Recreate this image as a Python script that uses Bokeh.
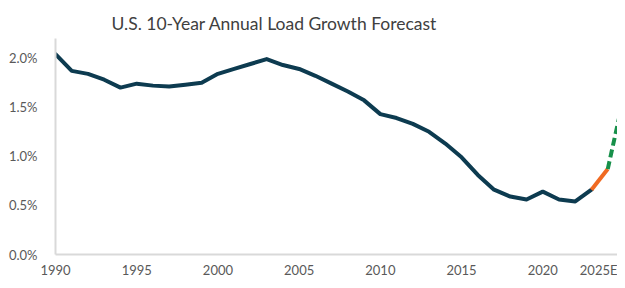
from bokeh.plotting import figure
from bokeh.models import FixedTicker, PrintfTickFormatter, Range1d
from bokeh.embed import file_html
from bokeh.resources import INLINE

# ---- data ----
years = list(range(1990, 2026))
growth_pct = [2.04, 1.87, 1.84, 1.78, 1.70, 1.74, 1.72, 1.71, 1.73, 1.75,
              1.84, 1.89, 1.94, 1.99, 1.93, 1.89, 1.82, 1.74, 1.66, 1.57,
              1.43, 1.39, 1.33, 1.25, 1.13, 0.99, 0.81, 0.66, 0.59, 0.56,
              0.64, 0.56, 0.54, 0.66, 0.87, 1.62]
actual_end_year = 2023      # last historical point (navy)
estimate_year = 2024        # orange segment end
x_tick_years = [1990, 1995, 2000, 2005, 2010, 2015, 2020]
last_tick_label = "2025E"
y_ticks = [0.0, 0.5, 1.0, 1.5, 2.0]
title_text = "U.S. 10-Year Annual Load Growth Forecast"

# ---- layout constants ----
X_START, X_END = 1990, 2024.6
LAST_LABEL_POS = 2023.55
FONT = "Lato"

i_act = years.index(actual_end_year)
i_est = years.index(estimate_year)

p = figure(width=617, height=280, output_backend="svg", toolbar_location=None,
           x_range=Range1d(X_START, X_END), y_range=Range1d(0, 2.2),
           min_border_left=55, min_border_right=0, min_border_top=38,
           min_border_bottom=0, title=title_text)

p.title.text_font = FONT
p.title.text_font_size = "17.5px"
p.title.text_font_style = "normal"
p.title.text_color = "#404040"
p.title.align = "left"
p.title.offset = 56

p.outline_line_color = None
p.xgrid.grid_line_color = None
p.ygrid.grid_line_color = None
p.background_fill_color = "white"
p.border_fill_color = "white"

# lines
p.line(years[:i_act + 1], growth_pct[:i_act + 1], line_color="#0d3b50",
       line_width=4, line_join="round", line_cap="round")
p.line(years[i_act:i_est + 1], growth_pct[i_act:i_est + 1], line_color="#f06a22",
       line_width=4, line_join="round")
p.line(years[i_est:], growth_pct[i_est:], line_color="#17904a",
       line_width=4, line_dash="8 4")

# axes
for ax in (p.xaxis[0], p.yaxis[0]):
    ax.axis_line_color = "#d9d9d9"
    ax.axis_line_width = 2
    ax.major_tick_line_color = None
    ax.minor_tick_line_color = None
    ax.major_tick_out = 0
    ax.major_tick_in = 0
    ax.minor_tick_out = 0
    ax.minor_tick_in = 0
    ax.axis_label_standoff = 0
    ax.major_label_text_font = FONT
    ax.major_label_text_font_size = "13px"
    ax.major_label_text_color = "#595959"

p.yaxis[0].ticker = FixedTicker(ticks=y_ticks)
p.yaxis[0].formatter = PrintfTickFormatter(format="%.1f%%")
p.yaxis[0].major_label_standoff = 18

p.xaxis[0].ticker = FixedTicker(ticks=x_tick_years + [LAST_LABEL_POS])
p.xaxis[0].major_label_overrides = {LAST_LABEL_POS: last_tick_label}
p.xaxis[0].major_label_standoff = 7

open("out.html", "w").write(file_html(p, INLINE))
